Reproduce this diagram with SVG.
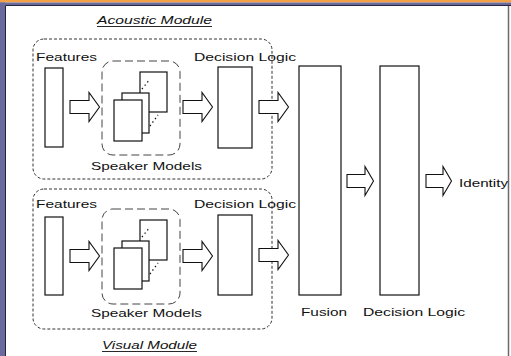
<svg xmlns="http://www.w3.org/2000/svg" width="511" height="356" viewBox="0 0 511 356">
<style>
text{font-family:"Liberation Sans",Arial,sans-serif;font-size:11.5px;fill:#111}
.it{font-style:italic}
.box{fill:#fff;stroke:#111;stroke-width:1.2}
.mod{fill:none;stroke:#333;stroke-width:1;stroke-dasharray:3 2}
.spk{fill:none;stroke:#444;stroke-width:1;stroke-dasharray:8 4}
.arr{fill:#fff;stroke:#111;stroke-width:1.1;stroke-linejoin:miter}
.dot{stroke:#111;stroke-width:1.3;stroke-dasharray:1.3 3}
.ul{stroke:#111;stroke-width:0.9}
</style>
<rect x="0" y="0" width="511" height="356" fill="#fff"/>
<rect x="0" y="0" width="511" height="2.5" fill="#f4a044"/>
<rect x="0" y="2.5" width="511" height="3" fill="#6a6a9c"/>
<rect x="0" y="2.5" width="5" height="353.5" fill="#6a6a9c"/>
<path d="M5.5 356V5.5H511" fill="none" stroke="#24243c" stroke-width="1"/>
<line x1="508.5" y1="6" x2="508.5" y2="356" stroke="#6a6a6a" stroke-width="1.5"/>

<g id="acoustic-module">
<rect class="mod" x="33" y="39" width="239" height="140" rx="11"/>
<text class="it" x="97" y="24" textLength="115" lengthAdjust="spacingAndGlyphs">Acoustic Module</text>
<line class="ul" x1="97" y1="26.5" x2="212" y2="26.5"/>
</g>
<g id="acoustic-features">
<text x="36" y="61" textLength="61" lengthAdjust="spacingAndGlyphs">Features</text>
<rect class="box" x="45" y="68" width="18" height="79"/>
</g>
<g id="acoustic-speaker-models">
<rect class="spk" x="102" y="61" width="78" height="94" rx="11"/>
<rect class="box" x="140" y="72" width="27" height="40"/>
<rect class="box" x="122" y="93" width="27" height="40"/>
<rect class="box" x="114" y="100" width="28" height="41"/>
<line class="dot" x1="142" y1="89" x2="150" y2="79"/>
<line class="dot" x1="150" y1="126" x2="158" y2="115"/>
<text x="91" y="170" textLength="111" lengthAdjust="spacingAndGlyphs">Speaker Models</text>
</g>
<g id="acoustic-decision">
<text x="194" y="61" textLength="102" lengthAdjust="spacingAndGlyphs">Decision Logic</text>
<rect class="box" x="218" y="67" width="34" height="81"/>
</g>

<g id="visual-module">
<rect class="mod" x="33" y="189" width="239" height="140" rx="11"/>
<text class="it" x="102" y="349" textLength="95" lengthAdjust="spacingAndGlyphs">Visual Module</text>
<line class="ul" x1="102" y1="351.5" x2="197" y2="351.5"/>
</g>
<g id="visual-features">
<text x="36" y="208" textLength="61" lengthAdjust="spacingAndGlyphs">Features</text>
<rect class="box" x="45" y="217" width="18" height="78"/>
</g>
<g id="visual-speaker-models">
<rect class="spk" x="102" y="209" width="78" height="95" rx="11"/>
<rect class="box" x="140" y="220" width="27" height="40"/>
<rect class="box" x="122" y="241" width="27" height="40"/>
<rect class="box" x="114" y="248" width="28" height="41"/>
<line class="dot" x1="142" y1="237" x2="150" y2="227"/>
<line class="dot" x1="150" y1="274" x2="158" y2="263"/>
<text x="91" y="317" textLength="111" lengthAdjust="spacingAndGlyphs">Speaker Models</text>
</g>
<g id="visual-decision">
<text x="194" y="208" textLength="102" lengthAdjust="spacingAndGlyphs">Decision Logic</text>
<rect class="box" x="218" y="215" width="34" height="80"/>
</g>

<g id="fusion">
<rect class="box" x="299" y="66" width="42" height="229"/>
<text x="301" y="316" textLength="46" lengthAdjust="spacingAndGlyphs">Fusion</text>
</g>
<g id="final-decision">
<rect class="box" x="380" y="66" width="39" height="229"/>
<text x="363" y="316" textLength="102" lengthAdjust="spacingAndGlyphs">Decision Logic</text>
</g>
<g id="identity">
<text x="459" y="187" textLength="49" lengthAdjust="spacingAndGlyphs">Identity</text>
</g>

<g id="connectors">
<path class="arr" d="M70 100.5H89V92.5L99.5 107L89 121.5V113.5H70Z"/>
<path class="arr" d="M183 100.5H202V92.5L212.5 107L202 121.5V113.5H183Z"/>
<path class="arr" d="M259 100.5H278V92.5L288.5 107L278 121.5V113.5H259Z"/>
<path class="arr" d="M70 249.5H89V241.5L99.5 256L89 270.5V262.5H70Z"/>
<path class="arr" d="M183 249.5H202V241.5L212.5 256L202 270.5V262.5H183Z"/>
<path class="arr" d="M259 248.5H278V240.5L288.5 255L278 269.5V261.5H259Z"/>
<path class="arr" d="M347 174.5H365V166.5L373.5 181L365 195.5V187.5H347Z"/>
<path class="arr" d="M426 174.5H443V166.5L451.5 181L443 195.5V187.5H426Z"/>
</g>
</svg>
